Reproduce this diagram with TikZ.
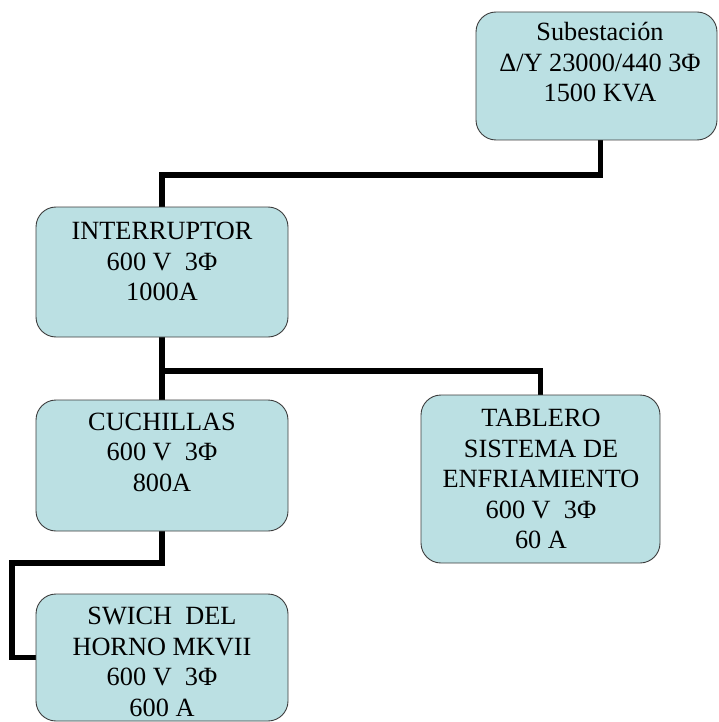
\documentclass[tikz,border=0pt]{standalone}
\usepackage{fontspec}
\setmainfont{Liberation Serif}
\usetikzlibrary{backgrounds}
\definecolor{boxfill}{RGB}{187,224,227}
\definecolor{boxline}{RGB}{60,60,60}
\tikzset{
  box/.style={draw=boxline, line width=0.9pt, fill=boxfill, rounded corners=20pt, inner sep=0pt, shape=rectangle},
  wire/.style={draw=black, line width=5.6pt, line join=miter},
  lbl/.style={anchor=base, inner sep=0pt, font=\fontsize{26.3}{30.6}\selectfont}
}
\newcommand{\lines}[1]{\begin{tabular}[t]{@{}c@{}}#1\end{tabular}}
\begin{document}
\begin{tikzpicture}[x=1pt,y=-1pt]
\useasboundingbox (0,0) rectangle (718,722);
% boxes
\node[box, minimum width=241pt, minimum height=128pt] (sub) at (596.5,76) {};
\node[box, minimum width=252pt, minimum height=130pt] (int) at (162,272) {};
\node[box, minimum width=252pt, minimum height=131pt] (cuch) at (162,465.5) {};
\node[box, minimum width=239pt, minimum height=168pt] (tab) at (540.5,479) {};
\node[box, minimum width=252pt, minimum height=127pt] (sw) at (162,657.5) {};
% texts
\node[lbl] (subt) at (600,40.5) {\lines{Subestación\\ Δ/Y 23000/440 3Φ\\ 1500 KVA}};
\node[lbl] (intt) at (162,239.5) {\lines{INTERRUPTOR\\ 600 V\ \ 3Φ\\ 1000A}};
\node[lbl] (cucht) at (162,430) {\lines{CUCHILLAS\\ 600 V\ \ 3Φ\\ 800A}};
\node[lbl] (tabt) at (541,426.5) {\lines{TABLERO\\ SISTEMA DE\\ ENFRIAMIENTO\\ 600 V\ \ 3Φ\\ 60 A}};
\node[lbl] (swt) at (162,624.5) {\lines{SWICH\ \ DEL\\ HORNO MKVII\\ 600 V\ \ 3Φ\\ 600 A}};
% connectors
\coordinate (j1) at (162,371);
\coordinate (k1) at (12,563);
\begin{scope}[on background layer]
\draw[wire] ([xshift=4pt]sub.south) -- ++(0,34.5) -| (int.north);
\draw[wire] (int.south) -- (cuch.north);
\draw[wire] (j1) -| (tab.north);
\draw[wire] (cuch.south) |- (k1) |- (sw.west);
\end{scope}
\end{tikzpicture}
\end{document}
